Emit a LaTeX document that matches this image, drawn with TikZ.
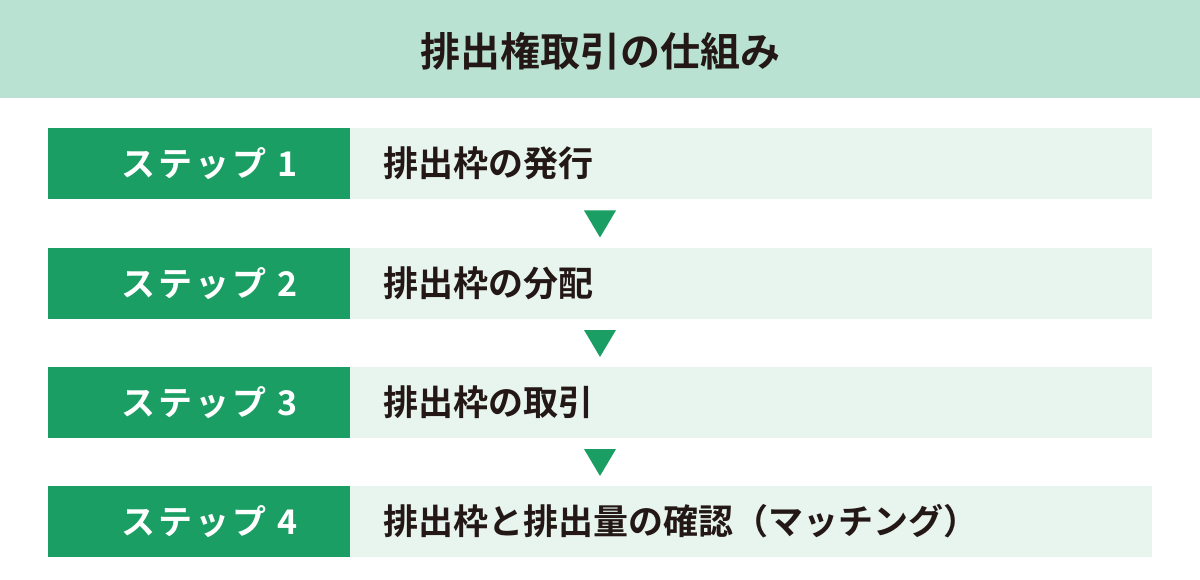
\documentclass[tikz,border=0pt]{standalone}
\usepackage{fontspec}
\setmainfont{Noto Sans CJK JP}[BoldFont={Noto Sans CJK JP Bold}]
\newfontfamily\stepfont{Noto Sans CJK JP Bold}[LetterSpace=9]
\usetikzlibrary{calc}

\definecolor{headmint}{HTML}{B9E2D2}
\definecolor{stepgreen}{HTML}{1A9E63}
\definecolor{taskmint}{HTML}{E8F4EE}
\definecolor{inkdark}{HTML}{231815}

\tikzset{
  stepbox/.style={fill=stepgreen, text=white, font=\stepfont\fontsize{34}{40}\selectfont,
    minimum width=302pt, minimum height=71pt, inner sep=0pt, text width=284pt, align=right},
  taskbox/.style={fill=taskmint, text=inkdark, font=\bfseries\fontsize{35}{40}\selectfont,
    minimum width=802pt, minimum height=71pt, inner sep=0pt, anchor=west,
    text width=736pt, align=left},
  downtri/.style={fill=stepgreen}
}

\begin{document}
\begin{tikzpicture}[x=1pt,y=-1pt]
            \useasboundingbox (0,0) rectangle (1200,580);
            \fill[headmint] (0,0) rectangle (1200,98);
            \node[text=inkdark, font=\bfseries\fontsize{40}{46}\selectfont] (title) at (600,51) {排出権取引の仕組み};
            \node[stepbox] (s1) at (199,163.5) {ステップ 1\hspace*{43pt}};
            \node[taskbox] (t1) at (350,163.5) {排出枠の発行};
            \node[stepbox] (s2) at (199,283.5) {ステップ 2\hspace*{43pt}};
            \node[taskbox] (t2) at (350,283.5) {排出枠の分配};
            \node[stepbox] (s3) at (199,402.5) {ステップ 3\hspace*{43pt}};
            \node[taskbox] (t3) at (350,402.5) {排出枠の取引};
            \node[stepbox] (s4) at (199,521.5) {ステップ 4\hspace*{43pt}};
            \node[taskbox] (t4) at (350,521.5) {排出枠と排出量の確認（マッチング）};
            \foreach \a/\b in {t1/t2, t2/t3, t3/t4} {
                \coordinate (m) at ($(\a.south west)!0.5!(\b.north west)$);
                \fill[downtri] (m -| 584,0) ++(0,-13) -- ++(32,0) -- ++(-16,27) -- cycle;
            }
        \end{tikzpicture}
\end{document}
